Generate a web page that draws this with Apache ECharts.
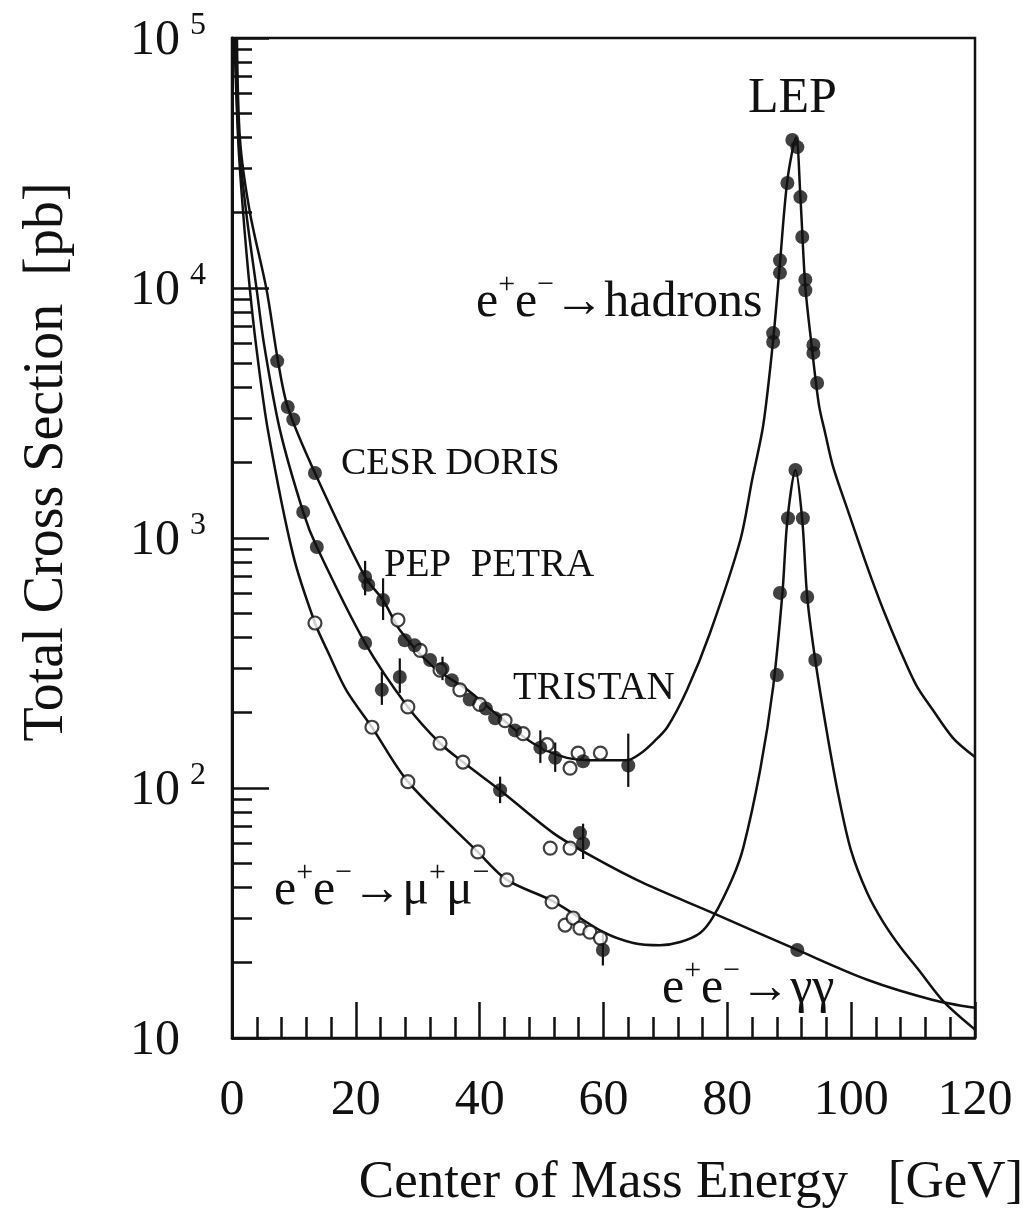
<!DOCTYPE html>
<html>
<head>
<meta charset="utf-8">
<script src="https://cdn.jsdelivr.net/npm/echarts@6/dist/echarts.min.js"></script>
<style>
  html, body { margin: 0; padding: 0; background: #fff; }
  #chart { width: 1033px; height: 1213px; }
</style>
</head>
<body>
<div id="chart"></div>
<script>
// curves: [energy GeV, cross section pb]
const hadronCurve = [
  [0.8, 100000], [1.3, 39000], [2.9, 20000], [5.6, 9800], [7.4, 5150], [9.0, 3340],
  [13.4, 1820], [21.5, 698], [24.4, 565], [27.1, 429], [32.5, 305], [38.0, 247],
  [43.3, 192], [48.6, 151], [54.1, 132], [59.5, 129], [63.8, 129], [65.9, 137],
  [68.0, 152], [70.3, 175], [73.5, 247], [77.2, 417], [82.1, 982], [84.0, 1706],
  [85.8, 2830], [87.4, 6190], [88.5, 12600], [89.7, 27000], [91.1, 40000],
  [91.8, 23100], [92.6, 10100], [93.7, 5650], [94.8, 3400], [95.8, 2630],
  [97.1, 1920], [99.5, 1280], [102.6, 766], [105.2, 515], [107.9, 356],
  [110.5, 258], [113.2, 205], [116.5, 158], [120, 133]
];
const muonCurve = [
  [0.4, 100000], [1.0, 39000], [1.8, 20000], [2.9, 9800], [4.0, 5600], [5.8, 2700],
  [9.9, 850], [13.4, 457], [15.5, 350], [18.5, 245], [22.6, 175], [28.4, 106],
  [39.7, 55.5], [44.4, 42.9], [51.8, 35.3], [60.0, 26.5], [64.8, 24], [69.1, 23.5],
  [72.4, 24.2], [75.6, 26.3], [77.7, 30.5], [80.9, 44], [82.6, 58], [85.3, 118],
  [87.4, 254], [88.9, 603], [89.7, 1180], [91.0, 1870], [92.1, 1180], [92.9, 581],
  [94.2, 325], [96.1, 166], [98.0, 92], [100.0, 56], [102.6, 38], [105.2, 29],
  [108.0, 23], [110.7, 19], [114.9, 14], [120, 10.8]
];
const photonCurve = [
  [0.5, 100000], [1.1, 39000], [2.3, 20000], [4.0, 9800], [5.2, 5900], [7.75, 2700],
  [11.5, 1270], [13.7, 920], [21.5, 380], [28.4, 211], [33.6, 151], [37.3, 127],
  [43.3, 98], [51.9, 66], [58.3, 53], [66.4, 41.7], [77.7, 31.6], [91.3, 22.5],
  [102.6, 17.1], [113.2, 14.2], [120, 13.2]
];

// measured points
const filledPoints = [
  [7.3, 5100], [9.0, 3340], [9.9, 2980], [13.4, 1820], [21.5, 698], [22.0, 650],
  [24.4, 565], [27.9, 390], [29.5, 372], [32.0, 325], [34.0, 300], [35.5, 270],
  [38.4, 226], [41.0, 208], [42.5, 190], [45.7, 170], [49.8, 145], [52.2, 132],
  [56.7, 128], [64.0, 123],
  [90.5, 39100], [91.3, 36600], [89.7, 26300], [91.8, 23100], [92.1, 16000],
  [88.5, 12900], [88.5, 11500], [92.6, 10800], [92.6, 9800], [87.4, 6600],
  [87.4, 6080], [93.9, 5920], [93.9, 5500], [94.5, 4170],
  [59.9, 22.5], [91.0, 1870], [89.8, 1200], [92.2, 1200], [88.5, 603], [92.9, 581],
  [88.0, 283], [94.2, 325],
  [11.5, 1270], [13.7, 920], [21.5, 380], [24.2, 247], [27.1, 278], [43.3, 98],
  [56.2, 66], [56.7, 60], [91.3, 22.5]
];
const openPoints = [
  [26.8, 470], [30.4, 355], [33.6, 296], [36.8, 247], [40.0, 216], [44.1, 186],
  [47.0, 165], [50.9, 149], [54.6, 120], [55.9, 138], [59.5, 138],
  [13.4, 457], [22.6, 175], [28.4, 106], [39.7, 55.5], [44.4, 42.9], [51.7, 35],
  [53.8, 28.3], [55.1, 30.2], [56.2, 27.5], [57.8, 26.5], [59.5, 25.1],
  [28.4, 211], [33.6, 151], [37.3, 127], [51.4, 57.5], [54.6, 57.5]
];
// [energy, low, high]
const errorBars = [
  [64.0, 101, 165], [21.5, 590, 810], [24.4, 470, 690], [49.8, 126, 170],
  [52.2, 116, 152], [24.2, 215, 292], [27.1, 240, 330], [43.3, 87, 111],
  [59.9, 19.5, 26.5], [56.7, 52, 72], [34.0, 270, 335]
];

const xMajor = [0, 20, 40, 60, 80, 100, 120];
const xMinor = [];
for (let v = 4; v < 120; v += 4) if (v % 20 !== 0) xMinor.push(v);
const yMajor = [10, 100, 1000, 10000, 100000];
const yMinor = [];
for (let d = 10; d < 100000; d *= 10) for (let k = 2; k <= 9; k++) yMinor.push(k * d);

const FONT = '"Liberation Serif", "DejaVu Serif", serif';
const INK = '#111';

const chart = echarts.init(document.getElementById('chart'));

const lineSeries = (data) => ({
  type: 'line', data, showSymbol: false, smooth: 0.3, clip: true,
  lineStyle: { color: INK, width: 2.5 }, z: 2, silent: true
});

const richLabel = {
  n: { fontFamily: FONT, fontSize: 50, fill: INK, verticalAlign: 'bottom', lineHeight: 58 },
  s: { fontFamily: FONT, fontSize: 30, fill: INK, verticalAlign: 'top' }
};

const option = {
  animation: false,
  backgroundColor: '#fff',
  grid: {
    left: 232, right: 58, top: 38, bottom: 175,
    show: true, borderColor: INK, borderWidth: 2.5, backgroundColor: 'transparent'
  },
  xAxis: [
    {
      type: 'value', min: 0, max: 120, interval: 20,
      axisLine: { lineStyle: { color: INK, width: 2.5 } },
      axisTick: { inside: true, length: 36, customValues: xMajor, lineStyle: { color: INK, width: 2.5 } },
      axisLabel: { customValues: xMajor, color: INK, fontFamily: FONT, fontSize: 50, margin: 38 },
      splitLine: { show: false }
    },
    {
      type: 'value', min: 0, max: 120, position: 'bottom',
      axisLine: { show: false },
      axisTick: { inside: true, length: 21, customValues: xMinor, lineStyle: { color: INK, width: 2.5 } },
      axisLabel: { show: false },
      splitLine: { show: false }
    }
  ],
  yAxis: [
    {
      type: 'log', logBase: 10, min: 10, max: 100000,
      axisLine: { lineStyle: { color: INK, width: 3 } },
      axisTick: { inside: true, length: 37, customValues: yMajor, lineStyle: { color: INK, width: 2.5 } },
      axisLabel: {
        customValues: yMajor, align: 'left', margin: 102, color: INK,
        formatter: (v) => {
          const e = Math.round(Math.log10(v));
          return e === 1 ? '{b|10}' : '{b|10}{s|' + e + '}';
        },
        rich: {
          b: { fontFamily: FONT, fontSize: 50, color: INK, verticalAlign: 'bottom', lineHeight: 56 },
          s: { fontFamily: FONT, fontSize: 32, color: INK, verticalAlign: 'top', padding: [0, 0, 0, 10] }
        }
      },
      splitLine: { show: false }
    },
    {
      type: 'log', logBase: 10, min: 10, max: 100000, position: 'left',
      axisLine: { show: false },
      axisTick: { inside: true, length: 20, customValues: yMinor, lineStyle: { color: INK, width: 2.5 } },
      axisLabel: { show: false },
      splitLine: { show: false }
    }
  ],
  series: [
    lineSeries(hadronCurve),
    lineSeries(muonCurve),
    lineSeries(photonCurve),
    {
      type: 'custom', data: errorBars, z: 3, silent: true,
      encode: { x: 0, y: [1, 2] },
      renderItem: (params, api) => {
        const lo = api.coord([api.value(0), api.value(1)]);
        const hi = api.coord([api.value(0), api.value(2)]);
        return {
          type: 'line',
          shape: { x1: lo[0], y1: lo[1], x2: hi[0], y2: hi[1] },
          style: { stroke: INK, lineWidth: 2.2 }
        };
      }
    },
    {
      type: 'scatter', data: openPoints, symbol: 'circle', symbolSize: 13, z: 4,
      itemStyle: { color: '#fff', borderColor: INK, borderWidth: 2.2 }, silent: true
    },
    {
      type: 'scatter', data: filledPoints, symbol: 'circle', symbolSize: 14, z: 5,
      itemStyle: { color: INK }, silent: true
    }
  ],
  graphic: [
    { type: 'text', left: 748, top: 74, style: { text: 'LEP', font: '50px ' + FONT, fill: INK } },
    {
      type: 'text', left: 476, top: 270,
      style: { text: '{n|e}{s|+}{n|e}{s|−}{n|→hadrons}', rich: richLabel }
    },
    { type: 'text', left: 341, top: 445, style: { text: 'CESR DORIS', font: '38px ' + FONT, fill: INK } },
    { type: 'text', left: 384, top: 546, style: { text: 'PEP  PETRA', font: '39px ' + FONT, fill: INK } },
    { type: 'text', left: 513, top: 669, style: { text: 'TRISTAN', font: '39px ' + FONT, fill: INK } },
    {
      type: 'text', left: 274, top: 858,
      style: { text: '{n|e}{s|+}{n|e}{s|−}{n|→μ}{s|+}{n|μ}{s|−}', rich: richLabel }
    },
    {
      type: 'text', left: 662, top: 956,
      style: { text: '{n|e}{s|+}{n|e}{s|−}{n|→γγ}', rich: richLabel }
    },
    {
      type: 'text', x: 691, y: 1183,
      style: {
        text: 'Center of Mass Energy   [GeV]', font: '53px ' + FONT, fill: INK,
        textAlign: 'center', textVerticalAlign: 'middle'
      }
    },
    {
      type: 'text', x: 47, y: 462, rotation: Math.PI / 2,
      style: {
        text: 'Total Cross Section  [pb]', font: '56px ' + FONT, fill: INK,
        textAlign: 'center', textVerticalAlign: 'middle'
      }
    }
  ]
};

chart.setOption(option);
</script>
</body>
</html>
